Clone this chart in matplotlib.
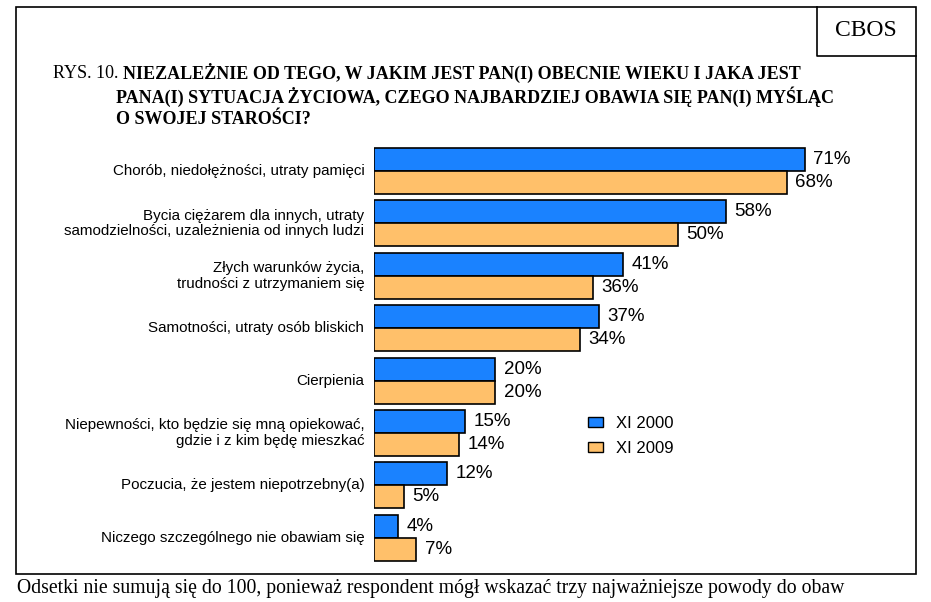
import matplotlib.pyplot as plt
from matplotlib.patches import Rectangle, Patch
from matplotlib.lines import Line2D
import numpy as np

plt.rcParams['font.family'] = ['Liberation Sans', 'DejaVu Sans']

categories = [
    "Chorób, niedołężności, utraty pamięci",
    "Bycia ciężarem dla innych, utraty\nsamodzielności, uzależnienia od innych ludzi",
    "Złych warunków życia,\ntrudności z utrzymaniem się",
    "Samotności, utraty osób bliskich",
    "Cierpienia",
    "Niepewności, kto będzie się mną opiekować,\ngdzie i z kim będę mieszkać",
    "Poczucia, że jestem niepotrzebny(a)",
    "Niczego szczególnego nie obawiam się",
]
xi_2000 = [71, 58, 41, 37, 20, 15, 12, 4]
xi_2009 = [68, 50, 36, 34, 20, 14, 5, 7]
series_names = ["XI 2000", "XI 2009"]
blue = "#1a82ff"
orange = "#ffc06a"

W, H = 931, 602
fig = plt.figure(figsize=(W / 100, H / 100), dpi=100)

def fx(px):
    return px / W

def fy(py):
    return 1 - py / H

# axes placed so that 0% sits at x=374 px and 1% ~ 6.07 px
ax_left, ax_right = 374, 915
ax_top, ax_bot = 145, 565
ax = fig.add_axes([fx(ax_left), fy(ax_bot), fx(ax_right - ax_left), (ax_bot - ax_top) / H])
ax.set_xlim(0, (ax_right - ax_left) / 6.07)
g0, gs = 171, 52.4
ax.set_ylim((ax_bot - g0) / gs, (ax_top - g0) / gs)
ax.axis('off')

y = np.arange(len(categories))
h = 0.44
ax.barh(y - h / 2, xi_2000, height=h, color=blue, edgecolor='black', linewidth=1.2)
ax.barh(y + h / 2, xi_2009, height=h, color=orange, edgecolor='black', linewidth=1.2)

for i in range(len(categories)):
    ax.annotate(f"{xi_2000[i]}%", (xi_2000[i], y[i] - h / 2), xytext=(6, 0),
                textcoords='offset points', va='center', ha='left', fontsize=13.5)
    ax.annotate(f"{xi_2009[i]}%", (xi_2009[i], y[i] + h / 2), xytext=(6, 0),
                textcoords='offset points', va='center', ha='left', fontsize=13.5)
    ax.annotate(categories[i], (0, y[i]), xytext=(-7, 0), textcoords='offset points',
                va='center', ha='right', multialignment='right', fontsize=10.9,
                linespacing=1.15, annotation_clip=False)

handles = [Patch(facecolor=blue, edgecolor='black'), Patch(facecolor=orange, edgecolor='black')]
fig.legend(handles, series_names, loc='upper left', bbox_to_anchor=(fx(573), fy(401)),
           frameon=False, fontsize=12, handlelength=0.9, handleheight=0.55,
           handletextpad=0.8, labelspacing=0.6)

# frame
fl, ft, fr, fb = 16, 7, 916, 574
fig.add_artist(Rectangle((fx(fl), fy(fb)), fx(fr - fl), (fb - ft) / H, fill=False,
                         edgecolor='black', linewidth=1.2, transform=fig.transFigure))
fig.add_artist(Line2D([fx(817), fx(817), fx(fr)], [fy(ft), fy(56), fy(56)],
                      color='black', linewidth=1.2, transform=fig.transFigure))
fig.text(fx(866), fy(31), "CBOS", family='Liberation Serif', fontsize=17,
         ha='center', va='center')

# title
serif = 'Liberation Serif'
fig.text(fx(53), fy(73), "RYS. 10.", family=serif, fontsize=13, va='center')
fig.text(fx(123), fy(73), "NIEZALEŻNIE OD TEGO, W JAKIM JEST PAN(I) OBECNIE WIEKU I JAKA JEST",
         family=serif, fontsize=13, fontweight='bold', va='center')
fig.text(fx(116), fy(97), "PANA(I) SYTUACJA ŻYCIOWA, CZEGO NAJBARDZIEJ OBAWIA SIĘ PAN(I) MYŚLĄC",
         family=serif, fontsize=13, fontweight='bold', va='center')
fig.text(fx(116), fy(120), "O SWOJEJ STAROŚCI?", family=serif, fontsize=13,
         fontweight='bold', va='center')

fig.text(fx(17), fy(588), "Odsetki nie sumują się do 100, ponieważ respondent mógł wskazać trzy najważniejsze powody do obaw",
         family=serif, fontsize=14.2, va='center')

fig.savefig("out.png", dpi=100)
